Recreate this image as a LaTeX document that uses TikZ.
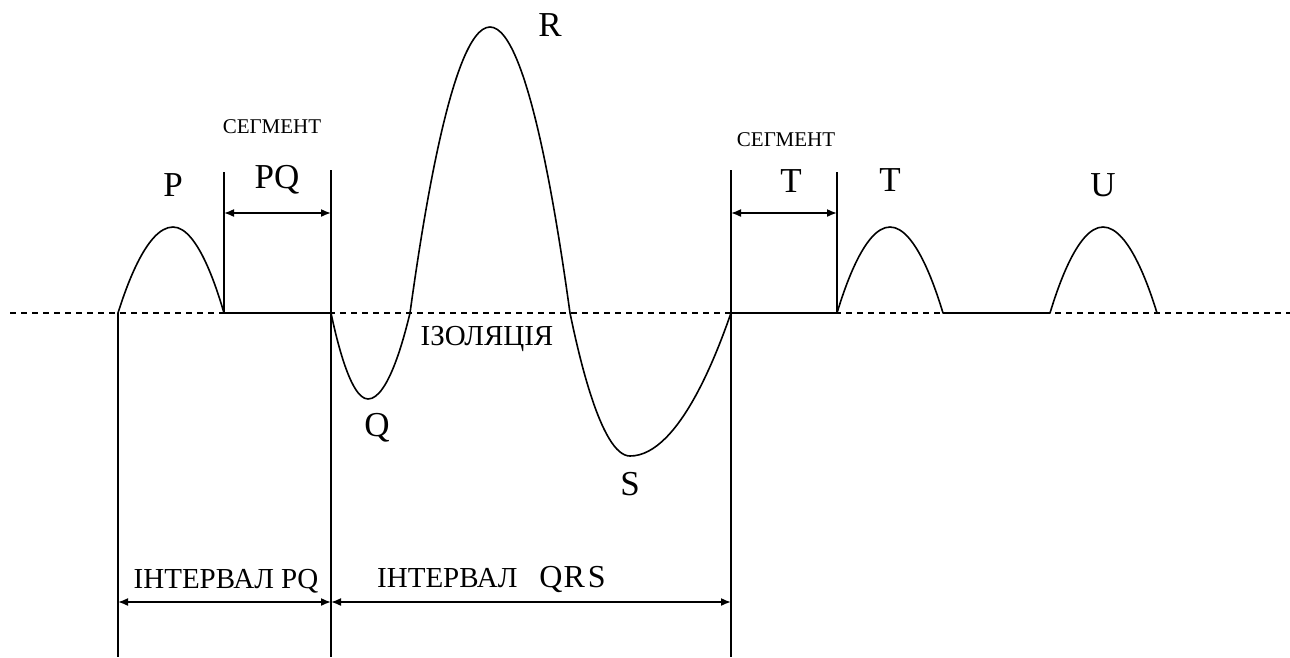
\documentclass[tikz,border=0pt]{standalone}
\usepackage{fontspec}
\setmainfont{Liberation Serif}
\usetikzlibrary{positioning, arrows.meta}

\begin{document}
\begin{tikzpicture}[
	x=1pt, y=-1pt,
	% --- Styles ---
	wave/.style={draw, line width=1.6pt, line join=round},
	isoline/.style={draw, line width=1.4pt, dash pattern=on 6pt off 5pt},
	marker/.style={draw, line width=1.6pt},
	dimarrow/.style={draw, line width=1.6pt, {Latex[length=10pt,width=8pt]}-{Latex[length=10pt,width=8pt]}},
	wavelabel/.style={font=\fontsize{35}{38}\selectfont, inner sep=0pt},
	seglabel/.style={font=\fontsize{21}{24}\selectfont, inner sep=0pt},
	intlabel/.style={font=\fontsize{29}{31}\selectfont, inner sep=0pt}
	]
	\useasboundingbox (0,0) rectangle (1290,657);
	
	% --- 1. Isoline ---
	\coordinate (iso_start) at (10,313);
	\coordinate (iso_end) at (1290,313);
	\draw [isoline] (iso_start) -- (iso_end);
	
	% --- 2. Key points of the wave ---
	\coordinate (p_on) at (118,313);
	\coordinate (p_top) at (173,227);
	\coordinate (p_off) at (224,313);
	\coordinate (q_on) at (331,313);
	\coordinate (q_min) at (368,399);
	\coordinate (r_up) at (410,313);
	\coordinate (r_top) at (490,27);
	\coordinate (r_down) at (570,313);
	\coordinate (s_min) at (630,456);
	\coordinate (s_off) at (731,313);
	\coordinate (t_on) at (837,313);
	\coordinate (t_top) at (890,227);
	\coordinate (t_off) at (943,313);
	\coordinate (u_on) at (1050,313);
	\coordinate (u_top) at (1103,227);
	\coordinate (u_off) at (1157,313);
	
	% --- 3. The wave ---
	\draw [wave] (p_on) parabola bend (p_top) (p_off) -- (q_on)
		parabola bend (q_min) (r_up)
		parabola bend (r_top) (r_down)
		parabola bend (s_min) (s_off) -- (t_on)
		parabola bend (t_top) (t_off) -- (u_on)
		parabola bend (u_top) (u_off);
	
	% --- 4. Vertical markers ---
	\coordinate (m1_bot) at (118,657);
	\coordinate (m2_top) at (224,172);
	\coordinate (m3_top) at (331,170);
	\coordinate (m3_bot) at (331,657);
	\coordinate (m4_top) at (731,170);
	\coordinate (m4_bot) at (731,657);
	\coordinate (m5_top) at (837,172);
	
	\draw [marker] (p_on) -- (m1_bot);
	\draw [marker] (m2_top) -- (p_off);
	\draw [marker] (m3_top) -- (m3_bot);
	\draw [marker] (m4_top) -- (m4_bot);
	\draw [marker] (m5_top) -- (t_on);
	
	% --- 5. Dimension arrows ---
	\coordinate (pq_a) at (224,213);
	\coordinate (pq_b) at (331,213);
	\coordinate (st_a) at (731,213);
	\coordinate (st_b) at (837,213);
	\coordinate (ipq_a) at (118,602);
	\coordinate (ipq_b) at (331,602);
	\coordinate (iqrs_b) at (731,602);
	
	\draw [dimarrow] (pq_a) -- (pq_b);
	\draw [dimarrow] (st_a) -- (st_b);
	\draw [dimarrow] (ipq_a) -- (ipq_b);
	\draw [dimarrow] (ipq_b) -- (iqrs_b);
	
	% --- 6. Labels ---
	\node [wavelabel, above=30pt of p_top] (lbl_p) {P};
	\node [wavelabel, anchor=base] (lbl_r) at (550,36) {R};
	\node [wavelabel, anchor=base] (lbl_q) at (377,436) {Q};
	\node [wavelabel, anchor=base] (lbl_s) at (630,495) {S};
	\node [wavelabel, above=35pt of t_top] (lbl_t) {T};
	\node [wavelabel, above=30pt of u_top] (lbl_u) {U};
	
	\node [seglabel, anchor=base] (lbl_seg_pq) at (272,133) {СЕГМЕНТ};
	\node [wavelabel, anchor=base] (lbl_pq) at (277,188) {PQ};
	\node [seglabel, anchor=base] (lbl_seg_st) at (786,146) {СЕГМЕНТ};
	\node [wavelabel, anchor=base] (lbl_st) at (791,192) {T};
	
	\node [intlabel, anchor=base] (lbl_iso) at (487,345) {ІЗОЛЯЦІЯ};
	\node [intlabel, anchor=base] (lbl_ipq) at (226,588) {ІНТЕРВАЛ PQ};
	\node [intlabel, anchor=base west] (lbl_iqrs) at (377,587) {ІНТЕРВАЛ\hspace{22pt}{\fontsize{32}{34}\selectfont Q\kern1pt R\kern3pt S}};
	
\end{tikzpicture}
\end{document}
